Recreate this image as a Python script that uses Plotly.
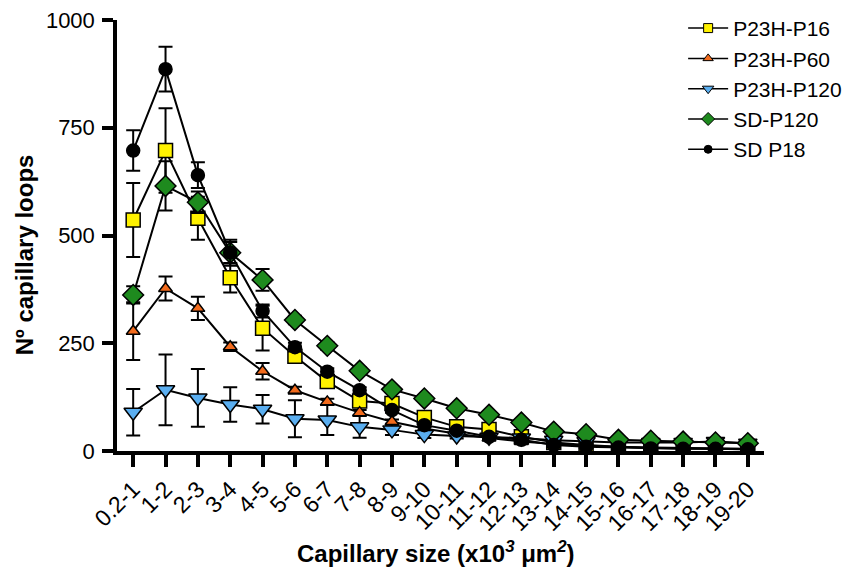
import plotly.graph_objs as go

size_bins = [
    "0.2-1", "1-2", "2-3", "3-4", "4-5", "5-6", "6-7", "7-8", "8-9", "9-10",
    "10-11", "11-12", "12-13", "13-14", "14-15", "15-16", "16-17", "17-18", "18-19", "19-20",
]

# mean number of capillary loops per size bin, and error bars
p23h_p16 = [536, 697, 540, 402, 285, 220, 161, 116, 110, 78, 56, 50, 33, 20, 14, 10, 8, 7, 6, 5]
p23h_p16_err = [86, 98, 50, 34, 52, 15, 12, 10, 8, 6, 5, 5, 4, 3, 2, 2, 2, 2, 1, 1]

p23h_p60 = [278, 377, 331, 242, 185, 141, 114, 89, 68, 52, 40, 30, 22, 16, 12, 9, 7, 6, 5, 4]
p23h_p60_err = [67, 28, 27, 10, 19, 8, 7, 6, 5, 4, 3, 3, 2, 2, 2, 1, 1, 1, 1, 1]

p23h_p120 = [90, 142, 123, 108, 97, 75, 72, 56, 49, 38, 35, 32, 30, 25, 22, 20, 20, 20, 22, 18]
p23h_p120_err = [54, 82, 67, 40, 33, 43, 35, 25, 12, 8, 6, 5, 5, 4, 4, 3, 3, 3, 3, 3]

sd_p120 = [362, 615, 577, 460, 397, 304, 244, 186, 143, 122, 99, 84, 66, 45, 39, 26, 24, 22, 20, 18]
sd_p120_err = [20, 57, 25, 25, 25, 10, 9, 8, 7, 6, 5, 5, 4, 4, 3, 3, 3, 2, 2, 2]

sd_p18 = [697, 886, 640, 460, 325, 241, 184, 141, 95, 60, 47, 33, 26, 14, 10, 8, 6, 5, 5, 4]
sd_p18_err = [47, 52, 30, 30, 15, 10, 8, 7, 6, 5, 4, 3, 3, 2, 2, 2, 1, 1, 1, 1]

series = [
    ("P23H-P16", p23h_p16, p23h_p16_err, "square", "#FFF200", 14, 9),
    ("P23H-P60", p23h_p60, p23h_p60_err, "triangle-up", "#F26B1D", 12, 9),
    ("P23H-P120", p23h_p120, p23h_p120_err, "triangle-down", "#5AAEF0", 16, 10),
    ("SD-P120", sd_p120, sd_p120_err, "diamond", "#1E8A1E", 16, 10),
    ("SD P18", sd_p18, sd_p18_err, "circle", "#000000", 13, 8),
]

FONT = "Arial, Liberation Sans, sans-serif"

fig = go.Figure()
for name, values, errors, symbol, color, size, legend_size in series:
    fig.add_trace(
        go.Scatter(
            x=size_bins,
            y=values,
            name=name,
            mode="lines+markers",
            showlegend=False,
            line=dict(color="black", width=2),
            marker=dict(symbol=symbol, color=color, size=size, line=dict(color="black", width=1.5)),
            error_y=dict(type="data", array=errors, color="black", thickness=2, width=7),
        )
    )

# smaller symbols for the legend, like the original figure
for name, values, errors, symbol, color, size, legend_size in series:
    fig.add_trace(
        go.Scatter(
            x=[None],
            y=[None],
            name=name,
            mode="lines+markers",
            line=dict(color="black", width=1.5),
            marker=dict(symbol=symbol, color=color, size=legend_size, line=dict(color="black", width=1)),
        )
    )

# the page body adds an 8px offset, so margins are reduced by that amount
fig.update_layout(
    width=850,
    height=578,
    paper_bgcolor="white",
    plot_bgcolor="white",
    font=dict(family=FONT, color="black", size=18),
    margin=dict(l=109, r=94, t=12, b=135, autoexpand=False),
    showlegend=True,
    legend=dict(
        x=0.875,
        y=1.028,
        xanchor="left",
        yanchor="top",
        font=dict(size=21),
        itemsizing="trace",
        itemwidth=40,
        bgcolor="rgba(0,0,0,0)",
    ),
    xaxis=dict(
        type="category",
        range=[-0.5, 19.5],
        automargin=False,
        tickangle=-45,
        tickfont=dict(size=23),
        showline=True,
        linecolor="black",
        linewidth=3.5,
        ticks="outside",
        ticklen=12,
        tickwidth=3.5,
        tickcolor="black",
        showgrid=False,
        zeroline=False,
    ),
    yaxis=dict(
        range=[0, 1000],
        automargin=False,
        tickvals=[0, 250, 500, 750, 1000],
        tickfont=dict(size=22),
        ticklabelstandoff=3,
        ticklabeloverflow="allow",
        showline=True,
        linecolor="black",
        linewidth=3.5,
        ticks="outside",
        ticklen=11,
        tickwidth=3.5,
        tickcolor="black",
        showgrid=False,
        zeroline=False,
    ),
    annotations=[
        dict(
            text="<b>Nº capillary loops</b>",
            xref="paper", yref="paper",
            x=-0.143, y=0.455,
            xanchor="center", yanchor="middle",
            textangle=-90,
            showarrow=False,
            font=dict(size=24),
        ),
        dict(
            text="<b>Capillary size (x10<i><sup>3</sup></i> μm<i><sup>2</sup></i>)</b>",
            xref="paper", yref="paper",
            x=0.493, y=-0.234,
            xanchor="center", yanchor="middle",
            showarrow=False,
            font=dict(size=24),
        ),
    ],
)

fig.write_html("out.html")
